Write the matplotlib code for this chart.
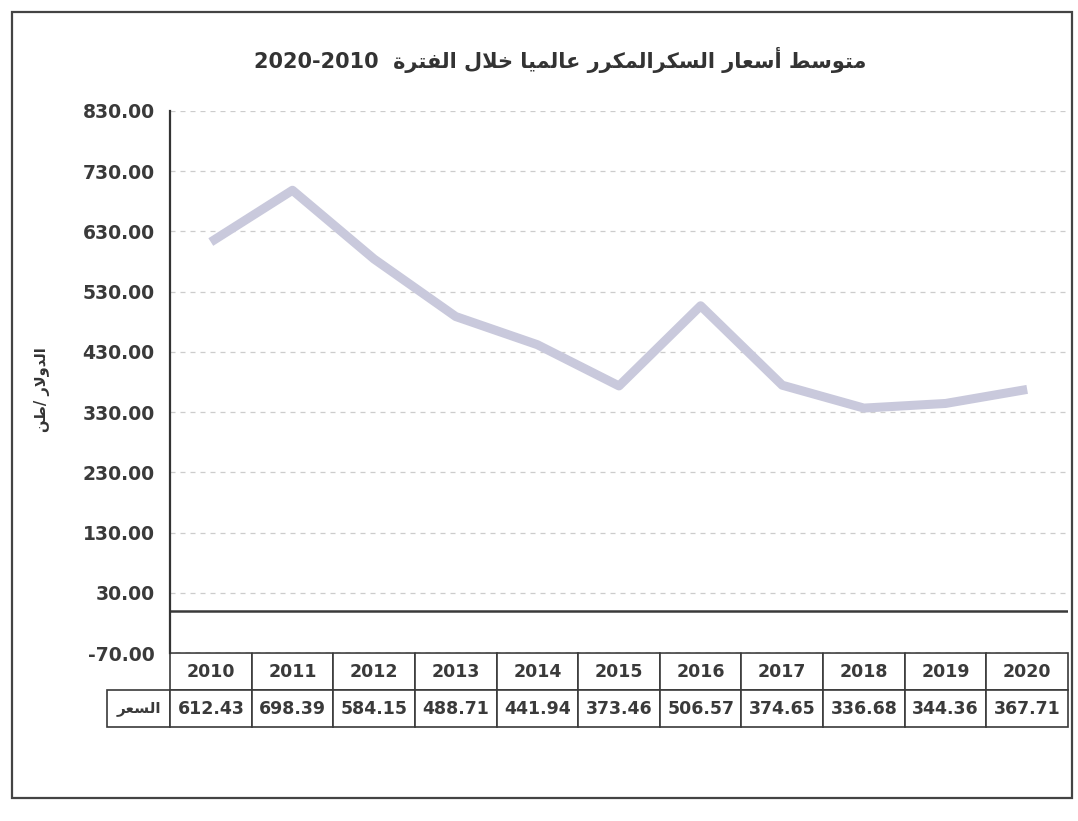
import matplotlib
matplotlib.use("Agg")
import matplotlib.pyplot as plt
from matplotlib.patches import Rectangle

# ---------------- data ----------------
years = ["2010", "2011", "2012", "2013", "2014", "2015", "2016", "2017", "2018", "2019", "2020"]
prices = [612.43, 698.39, 584.15, 488.71, 441.94, 373.46, 506.57, 374.65, 336.68, 344.36, 367.71]
y_ticks = [-70, 30, 130, 230, 330, 430, 530, 630, 730, 830]
title_ar = "متوسط أسعار السكرالمكرر عالميا خلال الفترة"
title_years = "2020-2010"
ylabel_ar = "الدولار /طن"
row_label_ar = "السعر"

# ---------------- minimal Arabic shaping (visual order) ----------------
FORMS = {
    'ا': ('\uFE8D', '\uFE8E'), 'أ': ('\uFE83', '\uFE84'),
    'ب': ('\uFE8F', '\uFE90', '\uFE91', '\uFE92'), 'ت': ('\uFE95', '\uFE96', '\uFE97', '\uFE98'),
    'ث': ('\uFE99', '\uFE9A', '\uFE9B', '\uFE9C'), 'ج': ('\uFE9D', '\uFE9E', '\uFE9F', '\uFEA0'),
    'ح': ('\uFEA1', '\uFEA2', '\uFEA3', '\uFEA4'), 'خ': ('\uFEA5', '\uFEA6', '\uFEA7', '\uFEA8'),
    'د': ('\uFEA9', '\uFEAA'), 'ذ': ('\uFEAB', '\uFEAC'), 'ر': ('\uFEAD', '\uFEAE'),
    'ز': ('\uFEAF', '\uFEB0'), 'س': ('\uFEB1', '\uFEB2', '\uFEB3', '\uFEB4'),
    'ش': ('\uFEB5', '\uFEB6', '\uFEB7', '\uFEB8'), 'ص': ('\uFEB9', '\uFEBA', '\uFEBB', '\uFEBC'),
    'ض': ('\uFEBD', '\uFEBE', '\uFEBF', '\uFEC0'), 'ط': ('\uFEC1', '\uFEC2', '\uFEC3', '\uFEC4'),
    'ظ': ('\uFEC5', '\uFEC6', '\uFEC7', '\uFEC8'), 'ع': ('\uFEC9', '\uFECA', '\uFECB', '\uFECC'),
    'غ': ('\uFECD', '\uFECE', '\uFECF', '\uFED0'), 'ف': ('\uFED1', '\uFED2', '\uFED3', '\uFED4'),
    'ق': ('\uFED5', '\uFED6', '\uFED7', '\uFED8'), 'ك': ('\uFED9', '\uFEDA', '\uFEDB', '\uFEDC'),
    'ل': ('\uFEDD', '\uFEDE', '\uFEDF', '\uFEE0'), 'م': ('\uFEE1', '\uFEE2', '\uFEE3', '\uFEE4'),
    'ن': ('\uFEE5', '\uFEE6', '\uFEE7', '\uFEE8'), 'ه': ('\uFEE9', '\uFEEA', '\uFEEB', '\uFEEC'),
    'و': ('\uFEED', '\uFEEE'), 'ي': ('\uFEF1', '\uFEF2', '\uFEF3', '\uFEF4'),
    'ة': ('\uFE93', '\uFE94'), 'ى': ('\uFEEF', '\uFEF0'),
}
LAM_ALEF = {'ا': ('\uFEFB', '\uFEFC'), 'أ': ('\uFEF7', '\uFEF8')}


def shape(text):
    out = []
    i = 0
    n = len(text)
    while i < n:
        c = text[i]
        if c not in FORMS:
            out.append(c)
            i += 1
            continue
        prev = text[i - 1] if i > 0 else ''
        prev_joins = prev in FORMS and len(FORMS[prev]) == 4
        if c == 'ل' and i + 1 < n and text[i + 1] in LAM_ALEF:
            lig = LAM_ALEF[text[i + 1]]
            out.append(lig[1] if prev_joins else lig[0])
            i += 2
            continue
        nxt = text[i + 1] if i + 1 < n else ''
        next_joins = nxt in FORMS
        f = FORMS[c]
        dual = len(f) == 4
        if prev_joins and next_joins and dual:
            out.append(f[3])
        elif prev_joins:
            out.append(f[1])
        elif next_joins and dual:
            out.append(f[2])
        else:
            out.append(f[0])
        i += 1
    return ''.join(out)


def visual(text):
    return shape(text)[::-1]


plt.rcParams['font.family'] = ['DejaVu Sans']

W, H = 1078, 821
fig = plt.figure(figsize=(W / 100, H / 100), dpi=100)
fig.patch.set_facecolor('white')

# outer chart frame
fig.add_artist(Rectangle((12 / W, 1 - 798 / H), (1072 - 12) / W, (798 - 12) / H,
                         transform=fig.transFigure, fill=False, edgecolor='#444444', lw=1.6))

ax_l, ax_r, ax_t, ax_b = 170, 1068, 111, 653
ax = fig.add_axes([ax_l / W, 1 - ax_b / H, (ax_r - ax_l) / W, (ax_b - ax_t) / H])

x = list(range(len(years)))
ax.plot(x, prices, color='#c9c9dc', lw=6.5, solid_capstyle='butt', solid_joinstyle='round', zorder=3)

ax.set_xlim(-0.5, len(years) - 0.5)
ax.set_ylim(y_ticks[0], y_ticks[-1])
ax.set_yticks(y_ticks)
ax.set_yticklabels([f"{v:.2f}" for v in y_ticks], fontsize=13.5, fontweight='bold', color='#3a3a3a')
ax.tick_params(axis='y', length=0, pad=11)
ax.set_xticks([])
ax.yaxis.grid(True, linestyle=(0, (4, 4)), color='#cccccc', lw=0.9)
ax.set_axisbelow(True)
for s in ['top', 'right', 'bottom']:
    ax.spines[s].set_visible(False)
ax.spines['left'].set_color('#333333')
ax.spines['left'].set_linewidth(1.6)
ax.axhline(0, color='#3a3a3a', lw=1.8, zorder=2)

# data table
axh = ax_b - ax_t
axw = ax_r - ax_l
lab_w = 63
tbl_h = 74
col_w = 1 / len(years)
tbl = ax.table(cellText=[[f"{v:.2f}" for v in prices]],
               colLabels=years,
               colWidths=[col_w] * len(years),
               cellLoc='center',
               bbox=[0, -tbl_h / axh, 1, tbl_h / axh])
row_h = tbl[1, 0].get_height()
tbl.add_cell(1, -1, width=lab_w / axw, height=row_h, text=visual(row_label_ar), loc='center')
tbl.auto_set_font_size(False)
for (r, c), cell in tbl.get_celld().items():
    cell.set_edgecolor('#3a3a3a')
    cell.set_linewidth(1.2)
    cell.get_text().set_color('#3a3a3a')
    cell.get_text().set_fontweight('bold')
    cell.get_text().set_fontsize(11 if c == -1 else 12.5)

# title
fig.text(560 / W, 1 - 60 / H, title_years + "  " + visual(title_ar),
         ha='center', va='center', fontsize=15, fontweight='bold', color='#333333')

# y-axis label
fig.text(42 / W, 1 - 390 / H, visual(ylabel_ar), rotation=90, ha='center', va='center',
         fontsize=10.5, fontweight='bold', color='#333333')

fig.savefig('out.png', dpi=100, facecolor='white')
